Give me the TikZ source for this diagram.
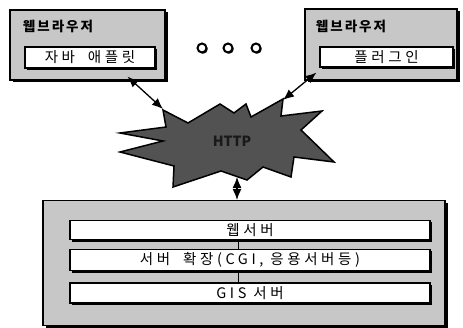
\documentclass[tikz,border=0pt]{standalone}
\usepackage{fontspec}
\setmainfont{Noto Sans CJK KR}
\usetikzlibrary{shadows,arrows.meta,calc}
\tikzset{
  outerbox/.style={draw=black,line width=1.1pt,fill=black!22,
    drop shadow={shadow xshift=2.5pt,shadow yshift=-2.5pt,opacity=1,fill=black}},
  innerbox/.style={draw=black,line width=1.1pt,fill=white,
    drop shadow={shadow xshift=1.8pt,shadow yshift=-1.8pt,opacity=1,fill=black},
    font=\fontsize{14.5}{16}\selectfont\addfontfeatures{LetterSpace=25}},
  titlelbl/.style={font=\bfseries\fontsize{13.5}{15}\selectfont\addfontfeatures{LetterSpace=15}},
  dot/.style={circle,draw=black,line width=2pt,fill=white,inner sep=0pt,minimum size=9pt,
    drop shadow={shadow xshift=1.2pt,shadow yshift=-1.2pt,opacity=1,fill=black}},
  link/.style={line width=1.3pt,{Latex[length=11pt,width=9pt]}-{Latex[length=11pt,width=9pt]}},
  burststyle/.style={draw=black,line width=1.5pt,fill=black!68}
}
\begin{document}
\begin{tikzpicture}[x=1pt,y=-1pt]
\useasboundingbox (0,0) rectangle (463,328);
% left browser
\node[outerbox,minimum width=155pt,minimum height=70pt] (leftbr) at (87.5,45) {};
\node[titlelbl] (lefttitle) at (58,26) {웹브라우저};
\node[innerbox,minimum width=130pt,minimum height=21pt] (leftin) at (90,57.5) {자바\hspace{6pt} 애플릿};
% right browser
\node[outerbox,minimum width=152pt,minimum height=71pt] (rightbr) at (381,44.5) {};
\node[titlelbl] (righttitle) at (351,26) {웹브라우저};
\node[innerbox,minimum width=133pt,minimum height=20pt] (rightin) at (386.5,57) {플러그인};
% dots
\node[dot] (d1) at (202,48) {};
\node[dot] (d2) at (228,48) {};
\node[dot] (d3) at (256,48) {};
% burst
\draw[burststyle] (120,133) -- (166,127) -- (163,110) -- (188,123) -- (220,104) -- (234,113)
  -- (246,104) -- (251,117) -- (283,99) -- (281,116) -- (322,111) -- (301,130)
  -- (334,162) -- (294,157) -- (291,177) -- (263,167) -- (247,180) -- (221,171)
  -- (173,187) -- (174,166) -- (120,152) -- (163,141) -- cycle;
\node[font=\bfseries\fontsize{14}{16}\selectfont,text=black!90] (http) at (232,141) {HTTP};
\coordinate (burstL) at (163,109);
\coordinate (burstR) at (283,100);
\coordinate (burstB) at (237,177);
% server box
\node[outerbox,minimum width=402pt,minimum height=125pt] (server) at (244,263) {};
\node[innerbox,minimum width=360pt,minimum height=18pt] (row1) at (250,230) {웹서버};
\node[innerbox,minimum width=360pt,minimum height=20pt] (row2) at (250,260) {서버\hspace{6pt} 확장(CGI, 응용서버등)};
\node[innerbox,minimum width=360pt,minimum height=20pt] (row3) at (250,293) {GIS 서버};
\draw[line width=0.9pt] (row1.south -| 238,0) -- (row2.north -| 238,0);
\draw[line width=0.9pt] (row2.south -| 238,0) -- (row3.north -| 238,0);
% arrows
\draw[link] ($(leftbr.south west)+(118,-4)$) -- (burstL);
\draw[link] (burstR) -- ($(rightbr.south west)+(12,-8)$);
\draw[link] (burstB) -- (server.north -| burstB);
\end{tikzpicture}
\end{document}
